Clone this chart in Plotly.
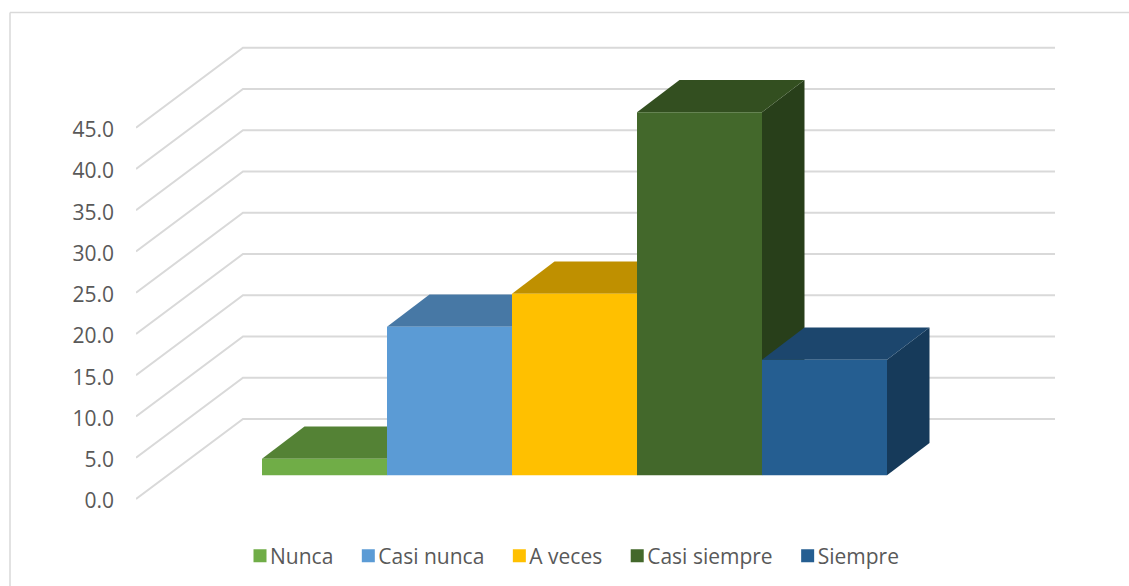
import plotly.graph_objects as go

categories = ["Nunca", "Casi nunca", "A veces", "Casi siempre", "Siempre"]
values = [2.0, 18.0, 22.0, 44.0, 14.0]
front_colors = ["#70AD47", "#5B9BD5", "#FFC000", "#43682B", "#255E91"]
top_colors = ["#548235", "#4778A5", "#BF9000", "#334F20", "#1C466D"]
side_colors = ["#3F6228", "#35597B", "#8F6C00", "#283F1A", "#163A5A"]
tick_values = [0, 5, 10, 15, 20, 25, 30, 35, 40, 45]
tick_labels = ["0.0", "5.0", "10.0", "15.0", "20.0", "25.0", "30.0", "35.0", "40.0", "45.0"]

W, H = 1129, 586
L, R, T, B = 136, 1055, 40, 578
PX_X = 125.0
PX_Y = 8.25
X_MIN = (L - 262) / PX_X
X_MAX = (R - 262) / PX_X
Y_MIN = (499 - B) / PX_Y
Y_MAX = (499 - T) / PX_Y
WALL_DX, WALL_DY = 107 / PX_X, 80 / PX_Y
BAR_DX, BAR_DY = 42.5 / PX_X, 32.3 / PX_Y
BASE = 23.7 / PX_Y
FONT = "Open Sans"
FONT_SIZE = 21
TEXT = "#595959"
GRID = "#D9D9D9"

fig = go.Figure()

gx, gy = [], []
for t in tick_values:
    gx += [X_MIN, X_MIN + WALL_DX, X_MAX, None]
    gy += [t, t + WALL_DY, t + WALL_DY, None]
fig.add_trace(go.Scatter(x=gx, y=gy, mode="lines", line=dict(color=GRID, width=2),
                         showlegend=False, hoverinfo="skip"))


def face(xs, ys, color):
    fig.add_trace(go.Scatter(x=xs, y=ys, mode="none", fill="toself", fillcolor=color,
                             showlegend=False, hoverinfo="skip"))


for i, v in enumerate(values):
    x0, x1 = i, i + 1
    y0, y1 = BASE, BASE + v
    face([x1, x1 + BAR_DX, x1 + BAR_DX, x1], [y0, y0 + BAR_DY, y1 + BAR_DY, y1], side_colors[i])
    face([x0, x0 + BAR_DX, x1 + BAR_DX, x1], [y1, y1 + BAR_DY, y1 + BAR_DY, y1], top_colors[i])
    face([x0, x1, x1, x0], [y0, y0, y1, y1], front_colors[i])

for name, color in zip(categories, front_colors):
    fig.add_trace(go.Scatter(x=[None], y=[None], mode="markers", name=name,
                             marker=dict(symbol="square", size=13, color=color)))


def px(x):
    return (x - L) / (R - L)


def py(y):
    return (B - y) / (B - T)


fig.add_shape(type="line", xref="paper", yref="paper", x0=px(10), x1=px(1129), y0=py(12.5), y1=py(12.5),
              line=dict(color=GRID, width=1.5))
fig.add_shape(type="line", xref="paper", yref="paper", x0=px(10), x1=px(10), y0=py(12.5), y1=py(586),
              line=dict(color=GRID, width=1.5))

fig.update_layout(
    width=W, height=H, autosize=False,
    margin=dict(l=L, r=W - R, t=T, b=H - B, pad=0),
    paper_bgcolor="white", plot_bgcolor="white",
    font=dict(family=FONT, size=FONT_SIZE, color=TEXT),
    xaxis=dict(range=[X_MIN, X_MAX], visible=False, fixedrange=True),
    yaxis=dict(range=[Y_MIN, Y_MAX], tickmode="array", tickvals=tick_values, ticktext=tick_labels,
               showgrid=False, zeroline=False, showline=False, ticks="", ticklabelstandoff=21,
               tickfont=dict(family=FONT, size=FONT_SIZE, color=TEXT), fixedrange=True),
    legend=dict(orientation="h", x=px(230), xanchor="left", y=py(556), yanchor="middle",
                font=dict(family=FONT, size=FONT_SIZE, color=TEXT), bgcolor="rgba(0,0,0,0)"),
    showlegend=True,
)
post = """
document.body.style.margin = '0';
document.querySelectorAll('.legendsymbols').forEach(function (g) {
  g.setAttribute('transform', 'translate(10,0)');
});
document.querySelectorAll('.ytick text').forEach(function (t) {
  t.setAttribute('y', parseFloat(t.getAttribute('y')) + 2);
});
"""
fig.write_html("out.html", post_script=post, config={"displayModeBar": False})
